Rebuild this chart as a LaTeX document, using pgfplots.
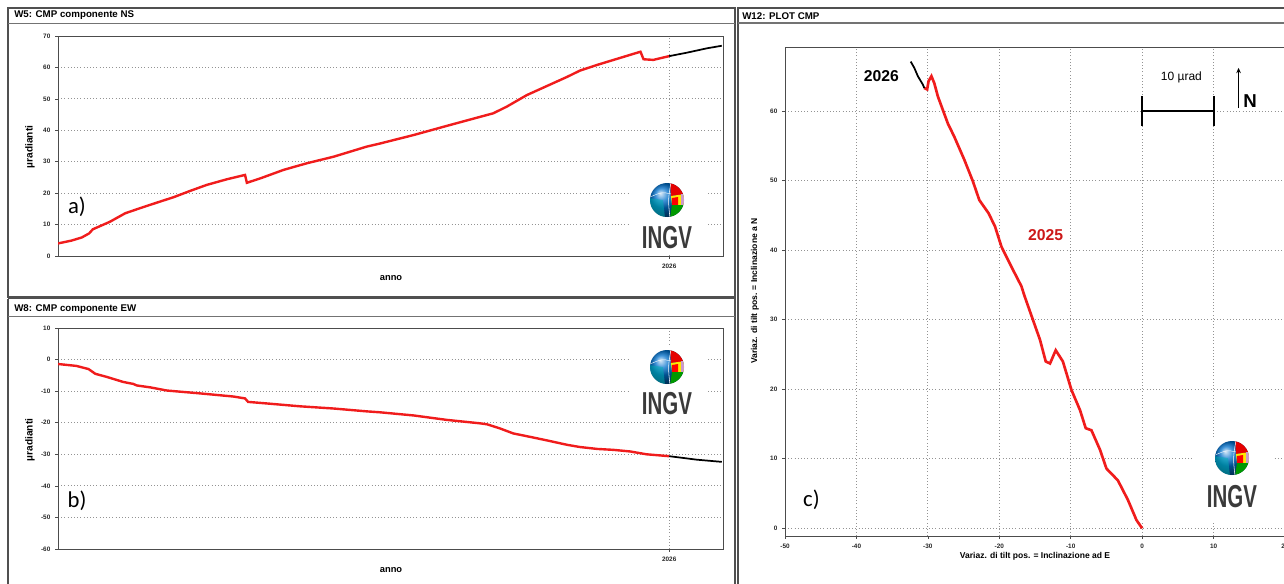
\documentclass[border=0pt]{standalone}
\usepackage{pgfplots}
\pgfplotsset{compat=1.18}
\usepackage{graphicx}
\usepackage{fontspec}
\setmainfont{Liberation Sans}
\newfontfamily\calib{Carlito}
\usetikzlibrary{arrows.meta}
\definecolor{lred}{HTML}{F01C1C}
\definecolor{framec}{HTML}{505050}
\definecolor{ingvgray}{HTML}{3A3A3A}

\pgfplotsset{
  tilt/.style={scale only axis, anchor=south west,
    axis line style={gray!60!black, line width=0.5pt},
    tick style={gray!60!black, line width=0.5pt}, tick align=outside, major tick length=2.2pt,
    tick pos=left,
    grid=major, major grid style={dotted, gray!85, line width=0.6pt},
    ticklabel style={font=\fontsize{4.8}{5}\selectfont\bfseries, text=black!85},
    /pgf/number format/assume math mode=true}
}

\newcommand{\ingvlogo}[3]{%
 \begin{scope}
  \clip (#1,#2) circle[radius=12.75pt];
  \shade[ball color=cyan!55!blue!80!black] (#1,#2) circle[radius=12.75pt];
  \fill[teal!60!cyan, opacity=0.5] (#1-18,#2-18) -- (#1-2,#2-18) -- (#1-4,#2) -- (#1-18,#2+2) -- cycle;
  \fill[red!90!black] (#1+3,#2+18) -- (#1+18,#2+18) -- (#1+18,#2+6) -- (#1+4,#2+4) -- cycle;
  \fill[yellow!90!orange] (#1+4,#2+4) -- (#1+18,#2+6) -- (#1+18,#2-5) -- (#1+5,#2-5) -- cycle;
  \fill[red] (#1+5,#2+2) -- (#1+11,#2+3) -- (#1+11,#2-5) -- (#1+5,#2-5) -- cycle;
  \fill[green!60!black] (#1+5,#2-5) -- (#1+18,#2-5) -- (#1+18,#2-18) -- (#1+3,#2-18) -- cycle;
  \fill[violet!40] (#1+14,#2+6) -- (#1+18,#2+6) -- (#1+18,#2-5) -- (#1+14,#2-5) -- cycle;
  \draw[white, line width=0.4pt] (#1+4,#2+18) .. controls (#1+1,#2) .. (#1+3,#2-18);
  \draw[white, line width=0.3pt] (#1-17,#2+3) .. controls (#1-5,#2+8) .. (#1+4,#2+6);
 \end{scope}
 \node[font=\bfseries\fontsize{23.8}{24}\selectfont, text=ingvgray, inner sep=0pt] at (#1,#3) {\scalebox{0.645}[1]{INGV}};
}

\begin{document}
\begin{tikzpicture}[x=0.75pt, y=0.75pt]
\path[use as bounding box] (0,0) rectangle (1284,583);

% ---------- panel a : NS (x = time in years since 1 Jan 2025) ----------
\begin{axis}[tilt, at={(43.5pt,245.25pt)}, width=498.75pt, height=165pt,
  xmin=0, xmax=1.088, ymin=0, ymax=70, ytick={0,10,...,70},
  xtick={1}, xticklabels={2026}]
\addplot[lred, line width=1.8pt] coordinates {
(0.000,4.0) (0.022,4.9) (0.039,5.9) (0.051,7.2) (0.057,8.5)
(0.085,10.9) (0.110,13.6) (0.134,15.2) (0.162,17.0) (0.189,18.7)
(0.216,20.7) (0.243,22.6) (0.276,24.4) (0.306,25.8) (0.309,23.3)
(0.331,24.7) (0.369,27.4) (0.407,29.5) (0.451,31.6) (0.505,34.8)
(0.527,35.8) (0.582,38.5) (0.636,41.4) (0.691,44.3) (0.712,45.4)
(0.734,47.5) (0.767,51.2) (0.800,54.1) (0.833,57.0) (0.854,59.0)
(0.882,60.8) (0.909,62.4) (0.936,64.0) (0.953,65.0) (0.958,62.6)
(0.974,62.4) (1.000,63.6)};
\addplot[black, line width=1.3pt] coordinates {
(1.000,63.6) (1.029,64.7) (1.062,66.1) (1.086,66.9)};
\end{axis}

% ---------- panel b : EW ----------
\begin{axis}[tilt, at={(43.5pt,25.5pt)}, width=498.75pt, height=165.75pt,
  xmin=0, xmax=1.088, ymin=-60, ymax=10, ytick={-60,-50,...,10},
  xtick={1}, xticklabels={2026}]
\addplot[lred, line width=1.8pt] coordinates {
(0.000,-1.4) (0.030,-2.0) (0.050,-3.0) (0.061,-4.5) (0.080,-5.5)
(0.107,-7.1) (0.123,-7.7) (0.129,-8.2) (0.151,-8.8) (0.178,-9.8)
(0.232,-10.7) (0.287,-11.7) (0.306,-12.3) (0.311,-13.4) (0.342,-13.9)
(0.396,-14.8) (0.451,-15.5) (0.505,-16.4) (0.527,-16.7) (0.582,-17.7)
(0.636,-19.1) (0.691,-20.2) (0.702,-20.5) (0.723,-21.8) (0.745,-23.4)
(0.773,-24.5) (0.800,-25.6) (0.833,-27.0) (0.854,-27.7) (0.882,-28.3)
(0.909,-28.6) (0.936,-29.1) (0.963,-30.0) (1.000,-30.6)};
\addplot[black, line width=1.3pt] coordinates {
(1.000,-30.6) (1.045,-31.7) (1.086,-32.4)};
\end{axis}

% ---------- panel c : tilt plot ----------
\begin{axis}[tilt, at={(588.75pt,35.25pt)}, width=375pt, height=366.75pt,
  xmin=-50, xmax=20, ymin=-1.1, ymax=69.2,
  xtick={-50,-40,...,20}, ytick={0,10,...,60}]
\addplot[lred, line width=2pt] coordinates {
(0,0) (-0.8,1.2) (-2.0,4.1) (-3.4,6.9) (-5.0,8.6) (-5.9,11.3) (-7.1,14.1)
(-7.9,14.4) (-8.7,17.0) (-9.9,19.9) (-10.6,22.3) (-11.1,24.0) (-12.1,25.6)
(-12.9,23.7) (-13.5,24.0) (-14.3,27.1) (-15.3,30.0) (-16.5,33.5) (-16.9,34.8)
(-18.3,37.6) (-19.7,40.5) (-20.6,43.4) (-21.5,45.3) (-22.8,47.2) (-23.7,49.9)
(-24.9,53.0) (-26.3,56.3) (-27.2,58.2) (-28.1,60.7) (-28.6,62.1) (-29.1,64.0)
(-29.5,65.0) (-29.9,64.3) (-30.1,63.1) (-30.5,63.3)};
\addplot[black, line width=1.3pt] coordinates {
(-30.5,63.3) (-30.7,63.8) (-31.4,65.0) (-31.9,66.2) (-32.4,67.1)};
\draw[line width=1.4pt] (axis cs:0,60) -- (axis cs:10,60);
\draw[line width=1.4pt] (axis cs:0,57.9) -- (axis cs:0,62.1);
\draw[line width=1.4pt] (axis cs:10,57.9) -- (axis cs:10,62.1);
\draw[-{Stealth[length=4pt,width=3.5pt]}, line width=1.1pt] (axis cs:13.5,60.4) -- (axis cs:13.5,66.2);
\node[font=\bfseries\fontsize{14}{14}\selectfont] at (axis cs:15.1,61.4) {N};
\node[font=\fontsize{9}{10}\selectfont] at (axis cs:5.5,64.9) {10 µrad};
\node[font=\bfseries\fontsize{11.8}{12}\selectfont] at (axis cs:-36.5,65.0) {2026};
\node[font=\bfseries\fontsize{11.8}{12}\selectfont, text=lred!85!black] at (axis cs:-13.5,42.1) {2025};
\node[font=\calib\fontsize{17}{17}\selectfont] at (axis cs:-46.3,4.1) {c)};
\end{axis}

% ---------- logos ----------
\fill[white] (630,330) rectangle (708,406);
\fill[white] (630,163) rectangle (708,238);
\fill[white] (1193,60) rectangle (1272,146);
\ingvlogo{667}{383}{345}
\ingvlogo{667}{216}{179}
\ingvlogo{1232}{125}{86}

% ---------- frames and texts (pixel coords, y downward) ----------
\begin{scope}[shift={(0,583)}, y=-0.75pt]
\draw[framec, line width=1.3pt] (8,8) rectangle (735,297);
\draw[framec!80, line width=1pt] (8,23.5) -- (735,23.5);
\draw[framec, line width=1.3pt] (8,298.5) -- (8,590) (8,298.5) -- (735,298.5) -- (735,590);
\draw[framec!80, line width=1pt] (8,316.5) -- (735,316.5);
\draw[framec, line width=1.3pt] (738,590) -- (738,8) -- (1290,8);
\draw[framec!80, line width=1pt] (738,23) -- (1290,23);

\node[anchor=west, font=\bfseries\fontsize{7.3}{8}\selectfont, inner sep=0pt] at (14,15.5) {W5: CMP componente NS};
\node[anchor=west, font=\bfseries\fontsize{7.3}{8}\selectfont, inner sep=0pt] at (14,309) {W8: CMP componente EW};
\node[anchor=west, font=\bfseries\fontsize{7.3}{8}\selectfont, inner sep=0pt] at (742,16) {W12: PLOT CMP};

\node[rotate=90, font=\bfseries\fontsize{7.6}{8}\selectfont] at (30,147) {µradianti};
\node[rotate=90, font=\bfseries\fontsize{7.6}{8}\selectfont] at (30,440) {µradianti};
\node[font=\bfseries\fontsize{7}{8}\selectfont] at (391,278) {anno};
\node[font=\bfseries\fontsize{7}{8}\selectfont] at (391,570) {anno};
\node[font=\calib\fontsize{17}{17}\selectfont] at (77,207) {a)};
\node[font=\calib\fontsize{17}{17}\selectfont] at (77,501) {b)};

\node[font=\bfseries\fontsize{6.4}{7}\selectfont] at (1035,556.5) {Variaz. di tilt pos. = Inclinazione ad E};
\node[rotate=90, font=\bfseries\fontsize{6.4}{7}\selectfont] at (755,291) {Variaz. di tilt pos. = Inclinazione a N};
\end{scope}
\end{tikzpicture}
\end{document}
